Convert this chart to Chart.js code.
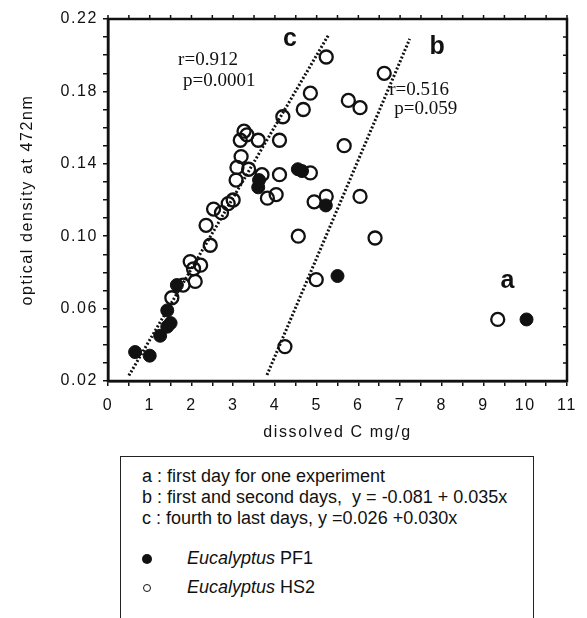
<!DOCTYPE html>
<html lang="en">
<head>
<meta charset="UTF-8" />
<title>Optical density vs dissolved C</title>
<script src="https://cdn.jsdelivr.net/npm/chart.js"></script>
<style>
  body {
    margin: 0;
    background: #fff;
    width: 587px;
    height: 618px;
    overflow: hidden;
    position: relative;
    font-family: "Liberation Sans", Arial, sans-serif;
    color: #111;
  }
  .chart-box {
    position: absolute;
    left: 0;
    top: 0;
    width: 587px;
    height: 450px;
  }
  .key {
    position: absolute;
    left: 120px;
    top: 456px;
    width: 414px;
    height: 200px;
    border: 1.5px solid #222;
    border-bottom: none;
    box-sizing: border-box;
    font-size: 18px;
  }
  .key .row {
    position: absolute;
    left: 21px;
    white-space: pre;
    line-height: 20px;
  }
  .dot {
    position: absolute;
    border-radius: 50%;
    box-sizing: border-box;
  }
  .dot.full { width: 10px; height: 10px; background: #111; left: 21px; top: 97px; }
  .dot.empty { width: 8px; height: 8px; border: 1.5px solid #111; left: 22px; top: 127px; }
</style>
</head>
<body>
  <div class="chart-box"><canvas id="odChart"></canvas></div>

  <div class="key">
    <div class="row" style="top:9px">a : first day for one experiment</div>
    <div class="row" style="top:30px">b : first and second days,  y = -0.081 + 0.035x</div>
    <div class="row" style="top:51px">c : fourth to last days, y =0.026 +0.030x</div>
    <span class="dot full"></span>
    <div class="row" style="top:91px; left:66px"><i>Eucalyptus</i> PF1</div>
    <span class="dot empty"></span>
    <div class="row" style="top:120px; left:66px"><i>Eucalyptus</i> HS2</div>
  </div>

  <script>
    // Eucalyptus PF1 (filled circles)
    const pf1X = [0.65, 1.0, 1.25, 1.42, 1.5, 1.42, 1.65, 3.62, 3.6, 4.55, 4.65, 5.22, 5.5, 10.03];
    const pf1Y = [0.036, 0.034, 0.045, 0.050, 0.052, 0.059, 0.073, 0.131, 0.127, 0.137, 0.136, 0.117, 0.078, 0.054];

    // Eucalyptus HS2 (open circles)
    const hs2X = [1.53, 1.8, 2.09, 1.97, 2.05, 2.22, 2.45, 2.35, 2.53, 2.72, 2.88, 3.0, 3.07, 3.09,
                  3.19, 3.37, 3.17, 3.26, 3.33, 3.6, 4.11, 3.69, 4.11, 3.82, 4.03, 4.19, 4.68, 4.85,
                  5.23, 5.76, 6.04, 6.62, 5.66, 4.85, 4.94, 5.23, 6.04, 4.56, 6.4, 4.99, 4.24, 9.34];
    const hs2Y = [0.066, 0.073, 0.075, 0.086, 0.082, 0.084, 0.095, 0.106, 0.115, 0.113, 0.118, 0.120, 0.131, 0.138,
                  0.144, 0.137, 0.153, 0.158, 0.156, 0.153, 0.153, 0.134, 0.134, 0.121, 0.123, 0.166, 0.170, 0.179,
                  0.199, 0.175, 0.171, 0.190, 0.150, 0.135, 0.119, 0.122, 0.122, 0.100, 0.099, 0.076, 0.039, 0.054];

    // regression lines as drawn (end points)
    const lineCX = [0.5, 5.28];
    const lineCY = [0.023, 0.211];
    const lineBX = [3.81, 7.23];
    const lineBY = [0.0233, 0.209];

    const xMin = 0, xMax = 11, xStep = 0.5;
    const yMin = 0.02, yMax = 0.22, yStep = 0.01;

    // labels placed in data units
    const notes = [
      { text: 'c', x: 4.36, y: 0.209, font: 'bold 25px "Liberation Sans", Arial, sans-serif', align: 'center' },
      { text: 'b', x: 7.89, y: 0.2043, font: 'bold 25px "Liberation Sans", Arial, sans-serif', align: 'center' },
      { text: 'a', x: 9.57, y: 0.0753, font: 'bold 25px "Liberation Sans", Arial, sans-serif', align: 'center' },
      { text: 'r=0.912', x: 1.68, y: 0.1973, font: '19px "Liberation Serif", "DejaVu Serif", serif', align: 'left' },
      { text: 'p=0.0001', x: 1.80, y: 0.1857, font: '19px "Liberation Serif", "DejaVu Serif", serif', align: 'left' },
      { text: 'r=0.516', x: 6.74, y: 0.1808, font: '19px "Liberation Serif", "DejaVu Serif", serif', align: 'left' },
      { text: 'p=0.059', x: 6.86, y: 0.1703, font: '19px "Liberation Serif", "DejaVu Serif", serif', align: 'left' }
    ];

    const pts = (xs, ys) => xs.map((x, i) => ({ x: x, y: ys[i] }));
    const ink = '#111';

    const framePlugin = {
      id: 'frame',
      beforeDraw(chart) {
        chart.ctx.letterSpacing = '1.6px';
      },
      afterDraw(chart) {
        const { ctx, chartArea: a, scales } = chart;
        ctx.save();
        ctx.letterSpacing = '0px';
        ctx.strokeStyle = ink;
        ctx.lineWidth = 2.5;
        ctx.strokeRect(a.left, a.top, a.right - a.left, a.bottom - a.top);

        // mirrored ticks on top and right
        ctx.lineWidth = 1.5;
        ctx.beginPath();
        scales.x.ticks.forEach(t => {
          const px = scales.x.getPixelForValue(t.value);
          ctx.moveTo(px, a.top);
          ctx.lineTo(px, a.top - 4);
        });
        scales.y.ticks.forEach(t => {
          const py = scales.y.getPixelForValue(t.value);
          ctx.moveTo(a.right, py);
          ctx.lineTo(a.right - 4, py);
        });
        ctx.stroke();

        ctx.fillStyle = ink;
        ctx.textBaseline = 'middle';
        notes.forEach(n => {
          ctx.font = n.font;
          ctx.textAlign = n.align;
          ctx.fillText(n.text, scales.x.getPixelForValue(n.x), scales.y.getPixelForValue(n.y));
        });
        ctx.restore();
      }
    };

    new Chart(document.getElementById('odChart'), {
      type: 'scatter',
      data: {
        datasets: [
          {
            label: 'Eucalyptus PF1',
            data: pts(pf1X, pf1Y),
            pointRadius: 6.5,
            pointBackgroundColor: ink,
            pointBorderColor: ink,
            pointBorderWidth: 1,
            order: 1
          },
          {
            label: 'Eucalyptus HS2',
            data: pts(hs2X, hs2Y),
            pointRadius: 6.5,
            pointBackgroundColor: 'rgba(0,0,0,0)',
            pointBorderColor: ink,
            pointBorderWidth: 2.3,
            order: 2
          },
          {
            label: 'c',
            data: pts(lineCX, lineCY),
            showLine: true,
            pointRadius: 0,
            borderColor: ink,
            borderWidth: 3,
            borderDash: [2, 2],
            order: 3
          },
          {
            label: 'b',
            data: pts(lineBX, lineBY),
            showLine: true,
            pointRadius: 0,
            borderColor: ink,
            borderWidth: 3,
            borderDash: [2, 2],
            order: 3
          }
        ]
      },
      options: {
        responsive: true,
        maintainAspectRatio: false,
        animation: false,
        layout: { padding: { left: 0, right: 20, top: 19, bottom: 0 } },
        plugins: {
          legend: { display: false },
          tooltip: { enabled: false }
        },
        scales: {
          x: {
            type: 'linear',
            min: xMin,
            max: xMax,
            afterFit: s => { s.height = 69; },
            border: { display: true, color: ink, width: 2.5 },
            grid: { drawOnChartArea: false, tickLength: 5, color: ink, lineWidth: 1.5 },
            ticks: {
              stepSize: xStep,
              autoSkip: false,
              maxRotation: 0,
              padding: 10,
              color: ink,
              font: { family: '"Liberation Sans", Arial, sans-serif', size: 16 },
              callback: v => (Math.abs(v - Math.round(v)) < 1e-6 ? String(Math.round(v)) : '')
            },
            title: {
              display: true,
              text: 'dissolved C mg/g',
              color: ink,
              padding: { top: 0, bottom: 8 },
              font: { family: '"Liberation Sans", Arial, sans-serif', size: 16 }
            }
          },
          y: {
            type: 'linear',
            min: yMin,
            max: yMax,
            afterFit: s => { s.width = 108; },
            border: { display: true, color: ink, width: 2.5 },
            grid: { drawOnChartArea: false, tickLength: 5, color: ink, lineWidth: 1.5 },
            ticks: {
              stepSize: yStep,
              autoSkip: false,
              padding: 5,
              color: ink,
              font: { family: '"Liberation Sans", Arial, sans-serif', size: 16 },
              callback: v => {
                const k = Math.round((v - 0.02) * 100);
                return k % 4 === 0 ? v.toFixed(2) : '';
              }
            },
            title: {
              display: true,
              text: 'optical density at 472nm',
              color: ink,
              padding: { top: 18, bottom: 0 },
              font: { family: '"Liberation Sans", Arial, sans-serif', size: 16 }
            }
          }
        }
      },
      plugins: [framePlugin]
    });
  </script>
</body>
</html>
